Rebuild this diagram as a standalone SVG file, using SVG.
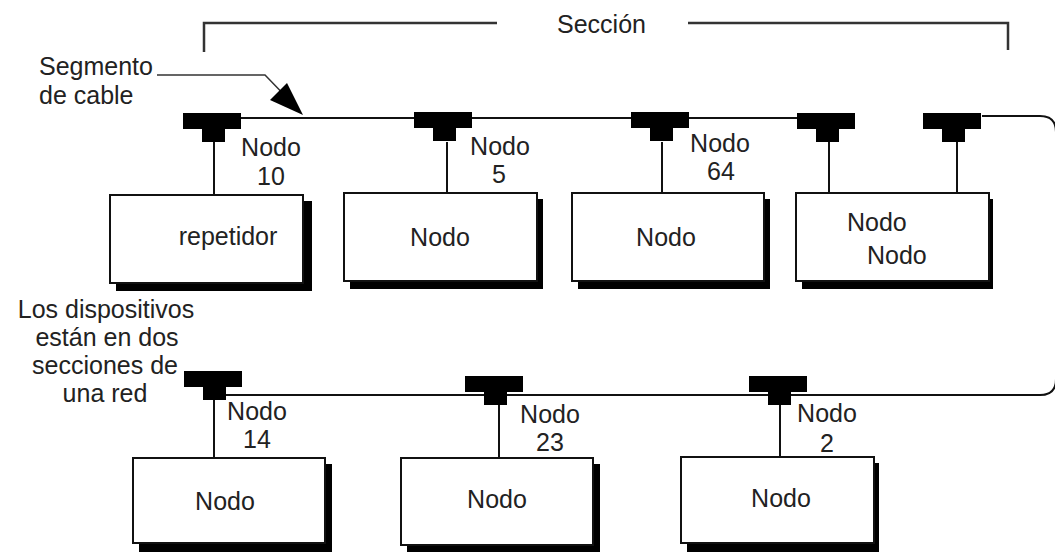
<svg xmlns="http://www.w3.org/2000/svg" width="1055" height="552" viewBox="0 0 1055 552">
<style>
text{font-family:"Liberation Sans",Arial,sans-serif;font-size:25px;fill:#222}
.m{text-anchor:middle}
.ln{fill:none;stroke:#111;stroke-width:2}
.br{fill:none;stroke:#333;stroke-width:2.5}
.sh{fill:#000}
.bx{fill:#fff;stroke:#111;stroke-width:2}
.tb{fill:#000}
</style>
<defs>
<g id="tee">
<rect class="tb" x="0" y="0" width="58" height="16"/>
<rect class="tb" x="19" y="15" width="23" height="14"/>
</g>
</defs>
<rect width="1055" height="552" fill="#fff"/>

<g id="section">
<path class="br" d="M204 52 V23 H497 M688 23 H1008 V50"/>
<text x="557" y="33">Sección</text>
</g>

<g id="connectors">
<path class="ln" d="M241 118 H797 M982 116 H1040 Q1056 116 1056 132 V379 Q1056 395 1040 395 H226"/>
<path class="ln" d="M214 142 V195 M447 142 V193 M662 142 V193 M829 142 V193 M957 142 V193"/>
<path class="ln" d="M214 400 V458 M499 404 V458 M780 404 V457"/>
<path fill="none" stroke="#333" stroke-width="1.5" d="M157 75 H265 L295 106"/>
<polygon points="303,115 270,100 287,83" fill="#000"/>
</g>

<g id="label-segmento">
<text x="39" y="75">Segmento</text>
<text x="39" y="104">de cable</text>
</g>

<g id="label-dispositivos">
<text class="m" x="106" y="318">Los dispositivos</text>
<text class="m" x="107" y="346">están en dos</text>
<text class="m" x="105" y="374">secciones de</text>
<text class="m" x="105" y="402">una red</text>
</g>

<g id="node10">
<use href="#tee" x="183" y="113"/>
<rect class="sh" x="116" y="201" width="196" height="90"/>
<rect class="bx" x="110" y="195" width="193" height="88"/>
<text class="m" x="228" y="245">repetidor</text>
<text class="m" x="271" y="156">Nodo</text>
<text class="m" x="271" y="185">10</text>
</g>

<g id="node5">
<use href="#tee" x="414" y="112"/>
<rect class="sh" x="350" y="199" width="193" height="90"/>
<rect class="bx" x="344" y="193" width="193" height="88"/>
<text class="m" x="440" y="246">Nodo</text>
<text class="m" x="500" y="155">Nodo</text>
<text class="m" x="499" y="183">5</text>
</g>

<g id="node64">
<use href="#tee" x="631" y="112"/>
<rect class="sh" x="578" y="199" width="192" height="90"/>
<rect class="bx" x="572" y="193" width="192" height="88"/>
<text class="m" x="666" y="246">Nodo</text>
<text class="m" x="720" y="152">Nodo</text>
<text class="m" x="721" y="180">64</text>
</g>

<g id="node-dual">
<use href="#tee" x="797" y="113"/>
<use href="#tee" x="923" y="113"/>
<rect class="sh" x="802" y="199" width="191" height="90"/>
<rect class="bx" x="796" y="193" width="193" height="88"/>
<text x="847" y="231">Nodo</text>
<text x="867" y="264">Nodo</text>
</g>

<g id="node14">
<use href="#tee" x="184" y="371"/>
<rect class="sh" x="139" y="464" width="193" height="88"/>
<rect class="bx" x="133" y="458" width="192" height="85"/>
<text class="m" x="225" y="510">Nodo</text>
<text class="m" x="257" y="420">Nodo</text>
<text class="m" x="257" y="448">14</text>
</g>

<g id="node23">
<use href="#tee" x="465" y="376"/>
<rect class="sh" x="407" y="464" width="193" height="88"/>
<rect class="bx" x="401" y="458" width="192" height="87"/>
<text class="m" x="497" y="508">Nodo</text>
<text class="m" x="550" y="423">Nodo</text>
<text class="m" x="550" y="451">23</text>
</g>

<g id="node2">
<use href="#tee" x="749" y="376"/>
<rect class="sh" x="687" y="463" width="192" height="89"/>
<rect class="bx" x="681" y="457" width="193" height="86"/>
<text class="m" x="781" y="507">Nodo</text>
<text class="m" x="827" y="422">Nodo</text>
<text class="m" x="827" y="452">2</text>
</g>
</svg>
